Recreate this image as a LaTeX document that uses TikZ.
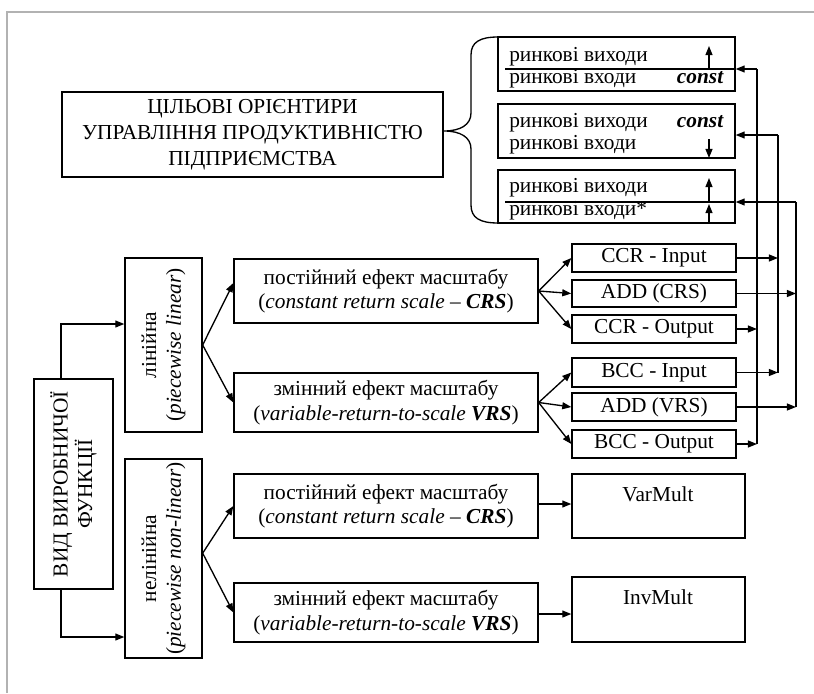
\documentclass[tikz,border=0pt]{standalone}
\usepackage{fontspec}
\setmainfont{Liberation Serif}
\usetikzlibrary{arrows.meta,calc}
\newcommand\boxat[7][]{%
  \pgfmathsetmacro\bxw{(#5-#3)*0.75}%
  \pgfmathsetmacro\bxh{(#6-#4)*0.75}%
  \node[box,#1, minimum width=\bxw pt, minimum height=\bxh pt] (#2) at ({(#3+#5)/2},{(#4+#6)/2}) {#7};}
\begin{document}
\begin{tikzpicture}[x=0.75pt,y=-0.75pt,
  box/.style={draw, line width=1pt, inner sep=0pt, align=center, font=\fontsize{16}{18.5}\selectfont},
  txt/.style={inner sep=0pt, align=center, font=\fontsize{16}{18.5}\selectfont},
  arr/.style={line width=1pt, -{Triangle[length=6.8pt,width=5.2pt]}},
  ln/.style={line width=1pt},
  frame/.style={draw=black!30, line width=1.6pt}]
\useasboundingbox (0,0) rectangle (814,693);
% gray frame
\draw[frame] (7,693) -- (7,12) -- (814,12);

% goal box and brace
\boxat[font=\fontsize{16}{19.5}\selectfont]{goal}{62}{92}{443}{177}{ЦІЛЬОВІ ОРІЄНТИРИ\\УПРАВЛІННЯ ПРОДУКТИВНІСТЮ\\ПІДПРИЄМСТВА}
\draw[ln] (498,37) .. controls (480,37) and (471,42) .. (471,55) -- (471,113)
  .. controls (471,125) and (460,131) .. (444,131)
  .. controls (460,131) and (471,137) .. (471,149) -- (471,205)
  .. controls (471,218) and (480,223) .. (498,223);

% top-right boxes
\boxat{g1}{498}{37}{735}{91}{}
\boxat{g2}{498}{104}{735}{158}{}
\boxat{g3}{498}{170}{735}{223}{}
\node[txt, anchor=base west] (t1a) at (509,61) {ринкові виходи};
\node[txt, anchor=base west] (t1b) at (509,83) {ринкові входи};
\node[txt, anchor=base east] (t1c) at (724,83) {\textbf{\textit{const}}};
\node[txt, anchor=base west] (t2a) at (509,127) {ринкові виходи};
\node[txt, anchor=base east] (t2c) at (724,127) {\textbf{\textit{const}}};
\node[txt, anchor=base west] (t2b) at (509,149) {ринкові входи};
\node[txt, anchor=base west] (t3a) at (509,192) {ринкові виходи};
\node[txt, anchor=base west] (t3b) at (509,215) {ринкові входи*};
% dividers and inner arrows
\coordinate (d1) at (505,69);
\coordinate (d3) at (505,202);
\draw[ln] (d1) -- (d1 -| g1.east);
\draw[ln] (d3) -- (d3 -| g3.east);
\coordinate (a1s) at (709,69); \coordinate (a1e) at (709,46);
\draw[arr] (a1s) -- (a1e);
\coordinate (a2s) at (709,139); \coordinate (a2e) at (709,158);
\draw[arr] (a2s) -- (a2e);
\coordinate (a3s) at (709,202); \coordinate (a3e) at (709,178);
\draw[arr] (a3s) -- (a3e);
\coordinate (a4s) at (709,223); \coordinate (a4e) at (709,204);
\draw[arr] (a4s) -- (a4e);

% left column
\boxat{main}{34}{379}{113}{589}{}
\node[txt, rotate=90] (maint) at (main.center) {ВИД ВИРОБНИЧОЇ\\ФУНКЦІЇ};
\boxat{lin}{125}{258}{202}{432}{}
\node[txt, rotate=90] (lint) at (lin.center) {лінійна\\(\textit{piecewise linear})};
\boxat{nonlin}{125}{459}{202}{658}{}
\node[txt, rotate=90] (nonlint) at (nonlin.center) {нелінійна\\(\textit{piecewise non-linear})};

% middle column
\boxat{crs1}{234}{259}{538}{323}{постійний ефект масштабу\\(\textit{constant return scale} – \textbf{\textit{CRS}})}
\boxat{vrs1}{234}{373}{538}{432}{змінний ефект масштабу\\(\textit{variable-return-to-scale} \textbf{\textit{VRS}})}
\boxat{crs2}{234}{474}{538}{538}{постійний ефект масштабу\\(\textit{constant return scale} – \textbf{\textit{CRS}})}
\boxat{vrs2}{234}{583}{538}{642}{змінний ефект масштабу\\(\textit{variable-return-to-scale} \textbf{\textit{VRS}})}

% right column
\boxat{ccrin}{572}{244}{736}{272}{CCR - Input}
\boxat{addcrs}{572}{280}{736}{307}{ADD (CRS)}
\boxat{ccrout}{572}{315}{736}{343}{CCR - Output}
\boxat{bccin}{572}{358}{736}{387}{BCC - Input}
\boxat{addvrs}{572}{393}{736}{421}{ADD (VRS)}
\boxat{bccout}{572}{430}{736}{458}{BCC - Output}
\boxat{varmult}{572}{474}{745}{538}{}
\node[txt, anchor=base] (varmultt) at (658,501) {VarMult};
\boxat{invmult}{572}{577}{745}{642}{}
\node[txt, anchor=base] (invmultt) at (658,604) {InvMult};

% connectors: left
\coordinate (mt) at (61,379);
\coordinate (mb) at (61,589);
\draw[arr] (mt) |- (lin.west |- 0,324);
\draw[arr] (mb) |- (nonlin.west |- 0,637);
\draw[arr] (lin.east) -- ([yshift=6pt]crs1.west);
\draw[arr] (lin.east) -- (vrs1.west);
\draw[arr] ([yshift=4pt]nonlin.east) -- (crs2.west);
\draw[arr] ([yshift=4pt]nonlin.east) -- (vrs2.west);

% connectors: middle to right
\draw[arr] (crs1.east) -- (ccrin.west);
\draw[arr] (crs1.east) -- (addcrs.west);
\draw[arr] (crs1.east) -- (ccrout.west);
\draw[arr] (vrs1.east) -- (bccin.west);
\draw[arr] (vrs1.east) -- (addvrs.west);
\draw[arr] (vrs1.east) -- (bccout.west);
\draw[arr] (crs2.east |- 0,504) -- (varmult.west |- 0,504);
\draw[arr] (vrs2.east |- 0,614) -- (invmult.west |- 0,614);

% right bus lines
\coordinate (v1t) at (757,69);
\coordinate (v1b) at (757,444);
\coordinate (v2t) at (778,135);
\coordinate (v2b) at (778,372.5);
\coordinate (v3t) at (796,202);
\coordinate (v3b) at (796,407);
\draw[ln] (v1t) -- (v1b);
\draw[ln] (v2t) -- (v2b);
\draw[ln] (v3t) -- (v3b);
\draw[arr] (v1t) -- (v1t -| g1.east);
\draw[arr] (v2t) -- (v2t -| g2.east);
\draw[arr] (v3t) -- (v3t -| g3.east);
\draw[arr] (ccrout.east) -- (ccrout.east -| v1t);
\draw[arr] (bccout.east) -- (bccout.east -| v1t);
\draw[arr] (ccrin.east) -- (ccrin.east -| v2t);
\draw[arr] (bccin.east) -- (bccin.east -| v2t);
\draw[arr] (addcrs.east) -- (addcrs.east -| v3t);
\draw[arr] (addvrs.east) -- (addvrs.east -| v3t);
\end{tikzpicture}
\end{document}
